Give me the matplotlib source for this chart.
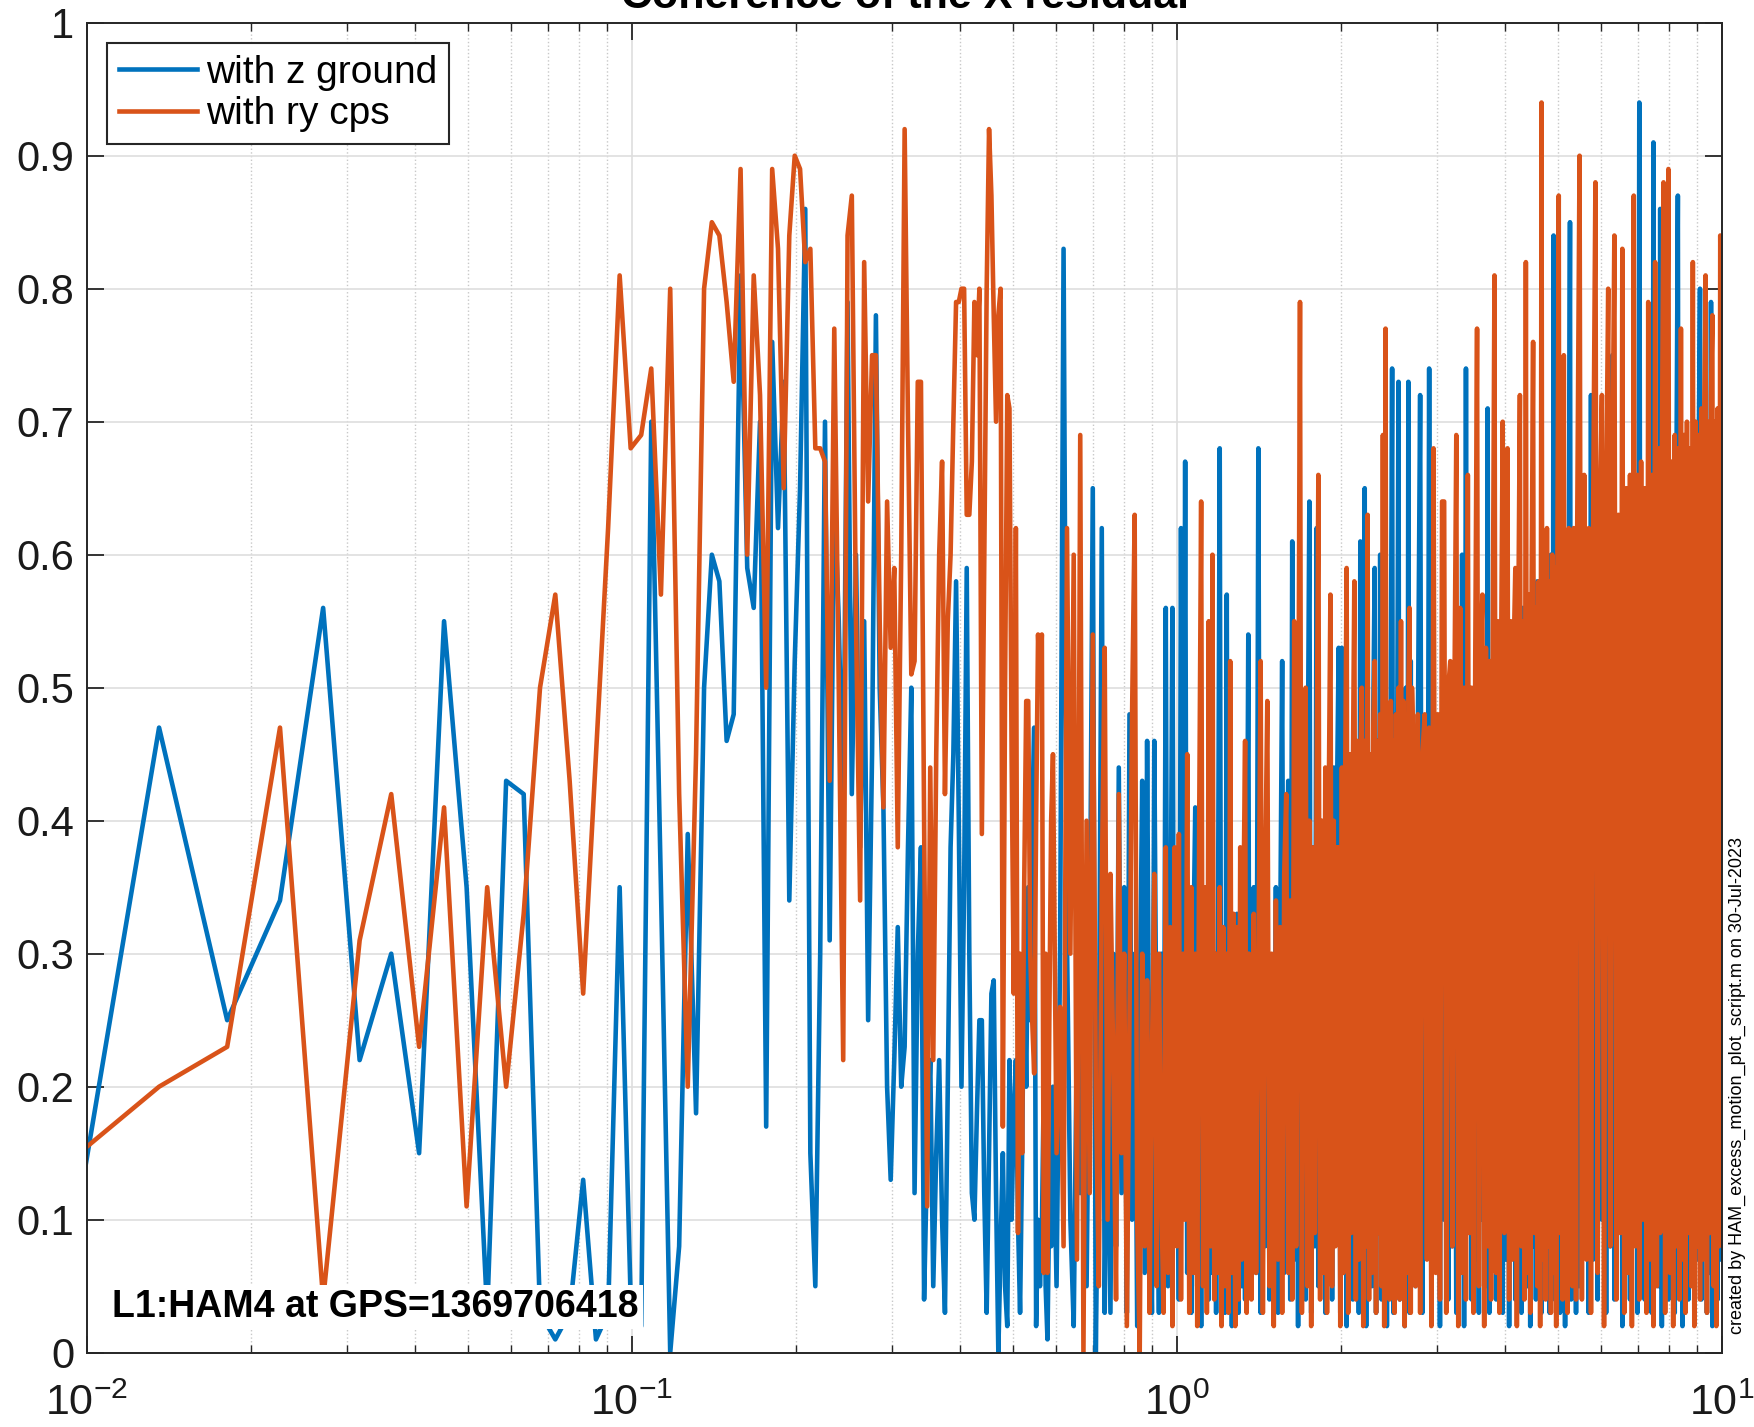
import numpy as np
import matplotlib
matplotlib.use("Agg")
import matplotlib.pyplot as plt
from matplotlib.ticker import LogLocator, NullFormatter

plt.rcParams['font.family'] = ['Liberation Sans', 'DejaVu Sans']
plt.rcParams['mathtext.fontset'] = 'custom'
plt.rcParams['mathtext.rm'] = 'Liberation Sans'
plt.rcParams['mathtext.it'] = 'Liberation Sans:italic'
plt.rcParams['mathtext.bf'] = 'Liberation Sans:bold'

df = 0.00452

# coherence in percent, bins 2..130 (every bin)
blue_low = [4, 47, 25, 34, 56, 22, 30, 15, 55, 35,
            3, 43, 42, 3, 1, 3, 13, 1, 3, 35,
            4, 2, 70, 35, 0, 8, 39, 18, 50, 60,
            58, 46, 48, 81, 59, 56, 70, 17, 76, 62,
            73, 34, 52, 65, 86, 15, 5, 30, 70, 31,
            65, 55, 40, 79, 42, 60, 38, 55, 25, 45,
            78, 50, 41, 20, 13, 22, 32, 20, 23, 38,
            50, 12, 30, 38, 4, 15, 22, 5, 15, 22,
            10, 3, 20, 38, 45, 58, 40, 20, 35, 59,
            30, 12, 10, 18, 25, 25, 12, 3, 15, 27,
            28, 12, 0, 8, 15, 5, 2, 22, 10, 18,
            22, 10, 3, 15, 30, 20, 35, 25, 40, 47,
            2, 10, 5, 9, 20, 5, 1, 12, 8]
orange_low = [14, 20, 23, 47, 4, 31, 42, 23, 41, 11,
              35, 20, 33, 50, 57, 43, 27, 45, 62, 81,
              68, 69, 74, 57, 80, 42, 20, 45, 80, 85,
              84, 79, 73, 89, 60, 81, 72, 50, 89, 83,
              65, 84, 90, 89, 82, 83, 68, 68, 67, 43,
              77, 50, 22, 84, 87, 55, 34, 82, 64, 75,
              75, 55, 41, 64, 53, 59, 38, 60, 92, 70,
              51, 52, 73, 73, 40, 11, 44, 22, 45, 60,
              67, 42, 55, 60, 70, 79, 79, 80, 80, 63,
              63, 67, 79, 75, 80, 39, 60, 80, 92, 87,
              78, 70, 78, 80, 17, 50, 72, 71, 45, 27,
              62, 9, 30, 15, 35, 49, 49, 30, 25, 21,
              40, 54, 50, 54, 6, 30, 6, 25, 40]

# bins 131..299, every 2nd bin
blue_a = [20, 5, 30, 83, 31, 10, 2, 25, 12, 35,
          5, 28, 65, 0, 20, 62, 3, 25, 3, 30,
          8, 44, 12, 35, 3, 48, 10, 30, 2, 25,
          43, 6, 46, 15, 3, 46, 20, 3, 30, 8,
          56, 5, 25, 56, 10, 30, 4, 62, 15, 67,
          6, 28, 3, 30, 41, 5, 25, 2, 30, 8,
          22, 4, 35, 6, 28, 3, 30, 68, 5, 25,
          3, 57, 8, 30, 2, 28, 6, 33, 3, 25,
          5, 30, 4, 28, 54]
orange_a = [45, 15, 26, 8, 62, 30, 60, 7, 69, 0,
            40, 12, 54, 20, 5, 35, 53, 10, 36, 22,
            4, 42, 15, 30, 2, 25, 48, 63, 10, 0,
            30, 8, 28, 3, 22, 36, 5, 30, 12, 3,
            38, 6, 32, 2, 38, 8, 39, 4, 30, 10,
            45, 3, 35, 6, 30, 2, 40, 64, 5, 35,
            3, 55, 8, 60, 4, 30, 6, 35, 2, 32,
            5, 30, 3, 52, 6, 33, 2, 32, 4, 38,
            7, 34, 46, 3, 30]

# bins 300..597, every 3rd bin
blue_b = [25, 5, 35, 6, 68, 3, 30, 8, 32, 4,
          28, 10, 35, 3, 30, 52, 6, 33, 43, 4,
          61, 7, 36, 2, 38, 9, 35, 4, 40, 64,
          3, 38, 8, 62, 5, 40, 10, 38, 3, 42,
          7, 40, 4, 44, 9, 42, 53, 3, 53, 6,
          44, 2, 45, 8, 42, 4, 46, 10, 44, 3,
          61, 7, 45, 65, 2, 46, 8, 44, 5, 48,
          59, 3, 46, 9, 60, 4, 46, 6, 48, 2,
          47, 8, 50, 74, 3, 48, 7, 46, 73, 4,
          50, 9, 48, 2, 50, 6, 73, 3, 52, 8]
orange_b = [30, 4, 33, 6, 28, 52, 3, 35, 49, 5,
            30, 2, 34, 7, 32, 3, 36, 42, 6, 34,
            4, 55, 8, 38, 79, 3, 36, 50, 5, 40,
            2, 38, 9, 42, 66, 4, 40, 6, 44, 3,
            41, 57, 5, 40, 8, 38, 38, 2, 44, 6,
            42, 59, 3, 45, 9, 43, 58, 4, 46, 7,
            44, 50, 2, 46, 8, 63, 4, 45, 6, 47,
            52, 3, 46, 9, 48, 5, 69, 2, 77, 8,
            47, 4, 49, 6, 46, 3, 48, 9, 50, 4,
            55, 7, 49, 2, 48, 6, 50, 56, 3, 50]

# bins 600..1194, every 6th bin
blue_c = [44, 5, 46, 72, 3, 45, 9, 74, 4, 46,
          7, 44, 2, 48, 10, 50, 4, 46, 8, 48,
          3, 46, 6, 60, 2, 74, 9, 50, 4, 48,
          7, 50, 3, 52, 10, 50, 5, 71, 3, 52,
          8, 50, 4, 53, 11, 52, 3, 55, 7, 52,
          2, 54, 9, 52, 4, 55, 8, 53, 3, 56,
          10, 55, 5, 57, 2, 55, 8, 56, 4, 58,
          7, 56, 3, 58, 12, 57, 5, 58, 3, 60,
          8, 84, 4, 58, 10, 60, 3, 58, 7, 60,
          2, 60, 9, 58, 85, 4, 60, 8, 58, 3]
orange_c = [46, 5, 48, 3, 45, 48, 7, 47, 2, 68,
            6, 48, 4, 64, 64, 3, 50, 52, 8, 48,
            69, 2, 56, 6, 50, 4, 66, 9, 50, 3,
            52, 77, 5, 52, 57, 2, 53, 8, 52, 4,
            54, 81, 6, 55, 3, 52, 70, 9, 54, 68,
            4, 55, 7, 53, 59, 2, 56, 72, 8, 55,
            4, 82, 6, 57, 3, 58, 76, 9, 56, 5,
            58, 2, 94, 7, 57, 4, 62, 8, 58, 3,
            60, 6, 59, 2, 61, 87, 9, 60, 4, 75,
            6, 60, 3, 62, 8, 61, 5, 62, 60, 4]

# bins 1200..2208, every 12th bin
blue_d = [58, 5, 60, 9, 58, 3, 72, 7, 60, 4,
          58, 10, 60, 3, 62, 8, 75, 4, 60, 11,
          62, 2, 60, 7, 63, 4, 62, 9, 60, 3,
          94, 8, 62, 4, 64, 10, 62, 3, 91, 7,
          64, 5, 86, 2, 64, 9, 65, 4, 62, 8,
          66, 3, 64, 87, 6, 66, 2, 64, 10, 67,
          4, 65, 8, 66, 3, 68, 7, 66, 80, 4,
          67, 9, 66, 3, 68, 6, 79, 2, 68, 8,
          66, 4, 68, 7, 82]
orange_d = [62, 90, 4, 66, 7, 62, 3, 64, 88, 6,
            63, 72, 2, 64, 80, 8, 65, 84, 4, 63,
            9, 83, 3, 65, 6, 66, 2, 87, 8, 66,
            4, 67, 10, 65, 3, 79, 7, 66, 2, 82,
            5, 68, 9, 67, 88, 3, 68, 89, 6, 67,
            2, 69, 8, 68, 4, 77, 7, 69, 3, 70,
            9, 68, 5, 82, 2, 70, 8, 69, 4, 71,
            7, 70, 81, 3, 70, 9, 72, 78, 5, 70,
            2, 71, 8, 84, 70]

series_names = ['with z ground', 'with ry cps']
yticks = [0, 0.1, 0.2, 0.3, 0.4, 0.5, 0.6, 0.7, 0.8, 0.9, 1]
ytick_labels = ['0', '0.1', '0.2', '0.3', '0.4', '0.5', '0.6', '0.7', '0.8', '0.9', '1']

bins = np.concatenate([np.arange(2, 131), np.arange(131, 300, 2),
                       np.arange(300, 600, 3), np.arange(600, 1200, 6),
                       np.arange(1200, 2209, 12)])
freq = bins * df
blue = np.array(blue_low + blue_a + blue_b + blue_c + blue_d) / 100.0
orange = np.array(orange_low + orange_a + orange_b + orange_c + orange_d) / 100.0

W, H = 1754, 1427
fig = plt.figure(figsize=(W / 100, H / 100), dpi=100)
ax = fig.add_axes([87 / W, 1 - 1352.7 / H, (1722 - 87) / W, (1352.7 - 22.7) / H])

ax.plot(freq, blue, color='#0072BD', lw=3.3, label=series_names[0])
ax.plot(freq, orange, color='#D95319', lw=3.3, label=series_names[1])

ax.set_xscale('log')
ax.set_xlim(0.01, 10)
ax.set_ylim(0, 1)
ax.set_yticks(yticks)
ax.set_yticklabels(ytick_labels)
ax.xaxis.set_minor_locator(LogLocator(base=10, subs=np.arange(2, 10)))
ax.xaxis.set_minor_formatter(NullFormatter())

ax.set_axisbelow(True)
ax.grid(True, which='major', color='#dedede', lw=1.2, ls='-')
ax.grid(True, which='minor', axis='x', color='#c8c8c8', lw=1.0, ls=':')

ax.tick_params(which='both', direction='in', top=True, right=True,
               colors='#262626', labelcolor='#1a1a1a', labelsize=30)
ax.tick_params(which='major', length=12, width=1.3)
ax.tick_params(axis='y', pad=9)
ax.tick_params(axis='x', pad=22, labelsize=31)
ax.tick_params(which='minor', length=6, width=1.0)
for s in ax.spines.values():
    s.set_color('#262626')
    s.set_linewidth(1.4)

leg = ax.legend(loc='upper left', fontsize=28, frameon=True, fancybox=False,
                edgecolor='#262626', framealpha=1, borderaxespad=0.52,
                handlelength=2.0, handletextpad=0.25, borderpad=0.3,
                labelspacing=0.15)
leg.get_frame().set_linewidth(1.5)

ax.text(0.0153, 0.021, 'L1:HAM4 at GPS=1369706418', transform=ax.transAxes,
        ha='left', va='bottom', fontsize=27, fontweight='bold', zorder=6,
        bbox=dict(facecolor='white', edgecolor='none', pad=3))

fig.text(1737 / W, 1 - 1085 / H,
         'created by HAM_excess_motion_plot_script.m on 30-Jul-2023',
         rotation=90, ha='center', va='center', fontsize=13,
         family=['Liberation Sans Narrow', 'Liberation Sans', 'DejaVu Sans'])

fig.text(904.5 / W, 1 - 8 / H, 'Coherence of the X residual', ha='center',
         va='baseline', fontsize=31, fontweight='bold')

fig.savefig('out.png', dpi=100)
